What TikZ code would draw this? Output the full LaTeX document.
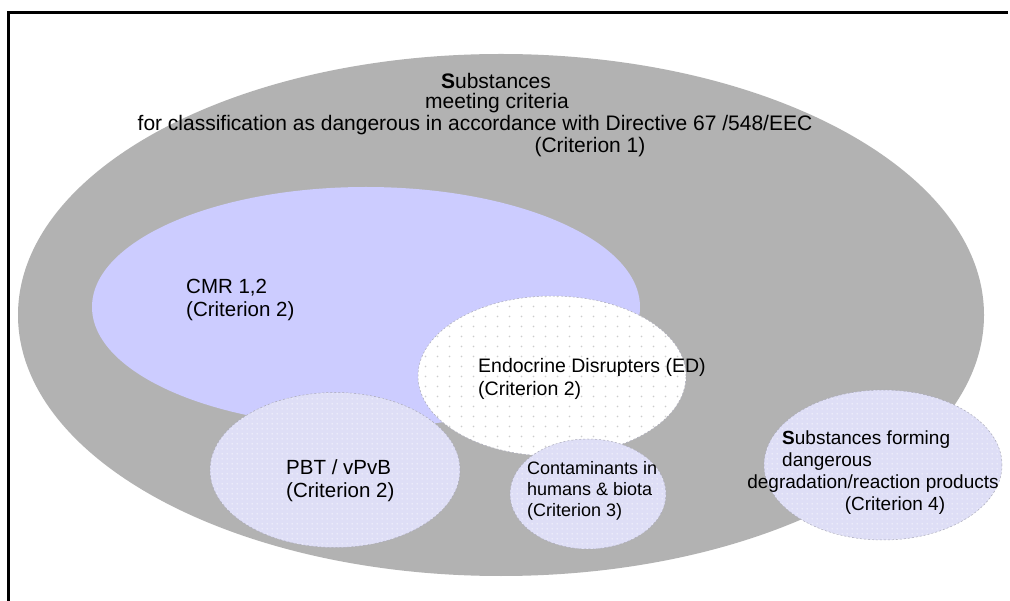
\documentclass[tikz,border=0pt]{standalone}
\usepackage{fontspec}
\setmainfont{Liberation Sans}
\usetikzlibrary{shapes.geometric,patterns.meta}
\definecolor{greyfill}{RGB}{178,178,178}
\definecolor{cmrfill}{RGB}{204,204,255}
\definecolor{lavfill}{RGB}{222,222,246}
\definecolor{dotgrey}{RGB}{205,205,205}
\definecolor{edgegrey}{RGB}{170,170,185}
\tikzdeclarepattern{
  name=edDots, type=uncolored,
  bounding box={(0pt,0pt) and (12pt,10pt)},
  tile size={(12pt,10pt)},
  code={\fill (6pt,5pt) circle (1pt);}
}
\tikzdeclarepattern{
  name=lavDots, type=uncolored,
  bounding box={(0pt,0pt) and (5pt,5pt)},
  tile size={(5pt,5pt)},
  code={\fill (2.5pt,2.5pt) circle (0.8pt);}
}
\tikzset{
  blob/.style={ellipse, inner sep=0pt, outer sep=0pt},
  greyblob/.style={blob, fill=greyfill},
  cmrblob/.style={blob, fill=cmrfill},
  edblob/.style={blob, fill=white, postaction={pattern={edDots}, pattern color=dotgrey},
    draw=edgegrey, dash pattern=on 2pt off 2pt, line width=0.5pt},
  lavblob/.style={blob, fill=lavfill, postaction={pattern={lavDots}, pattern color=white!85!lavfill},
    draw=edgegrey, dash pattern=on 2pt off 2pt, line width=0.5pt},
  ttxt/.style={inner sep=0pt, font=\fontsize{21}{23}\selectfont, text=black},
  txt/.style={inner sep=0pt, font=\fontsize{20.5}{23}\selectfont, text=black},
  etxt/.style={inner sep=0pt, font=\fontsize{19.5}{22.5}\selectfont, text=black},
  stxt/.style={inner sep=0pt, font=\fontsize{18}{21}\selectfont, text=black},
  dtxt/.style={inner sep=0pt, font=\fontsize{19}{21}\selectfont, text=black},
  frameline/.style={line width=3pt, line cap=butt}
}
\begin{document}
\begin{tikzpicture}[x=1pt,y=-1pt]
\useasboundingbox (0,0) rectangle (1010,601);
\fill[white] (0,0) rectangle (1010,601);
% frame (cropped at right and bottom)
\draw[frameline] (8.5,601) -- (8.5,12.5) -- (1008,12.5);
% ellipses
\node[greyblob, minimum width=966pt, minimum height=522pt] (all) at (501,315) {};
\node[cmrblob, minimum width=548pt, minimum height=240pt] (cmr) at (366,307) {};
\node[lavblob, minimum width=250pt, minimum height=155pt] (pbt) at (335,470) {};
\node[edblob, minimum width=268pt, minimum height=160pt] (ed) at (552,376) {};
\node[lavblob, minimum width=156pt, minimum height=110pt] (cont) at (588,494) {};
\node[lavblob, minimum width=238pt, minimum height=150pt] (deg) at (883,465) {};
% title
\node[ttxt] (t1) at (496,81) {\textbf{S}ubstances};
\node[ttxt] (t2) at (497,103) {meeting criteria};
\node[ttxt] (t3) at (475,125) {for classification as dangerous in accordance with Directive 67 /548/EEC};
\node[ttxt] (t4) at (590,147) {(Criterion 1)};
% CMR
\node[txt, anchor=west, align=left] (cmrt) at (186,300) {CMR 1,2\\(Criterion 2)};
% ED
\node[etxt, anchor=west, align=left] (edt) at (478,379) {Endocrine Disrupters (ED)\\(Criterion 2)};
% PBT
\node[txt, anchor=west, align=left] (pbtt) at (286,481) {PBT / vPvB\\(Criterion 2)};
% contaminants
\node[stxt, anchor=west, align=left] (contt) at (527,491) {Contaminants in\\humans \& biota\\(Criterion 3)};
% degradation
\node[dtxt, anchor=west] (d1) at (782,440) {\textbf{S}ubstances forming};
\node[dtxt, anchor=west] (d2) at (782,462) {dangerous};
\node[dtxt] (d3) at (873,484) {degradation/reaction products};
\node[dtxt] (d4) at (895,506) {(Criterion 4)};
\end{tikzpicture}
\end{document}
